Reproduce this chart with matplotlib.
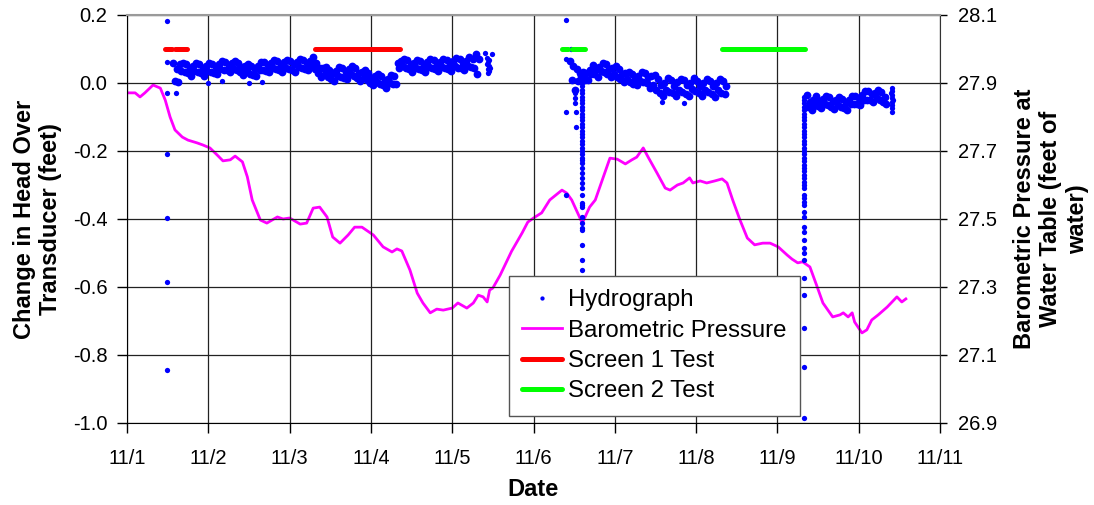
import numpy as np
import matplotlib.pyplot as plt

plt.rcParams['font.family'] = ['Liberation Sans', 'DejaVu Sans']
plt.rcParams['axes.unicode_minus'] = False

# x values are days after 11/1 00:00
day_labels = ['11/1', '11/2', '11/3', '11/4', '11/5', '11/6',
              '11/7', '11/8', '11/9', '11/10', '11/11']

# barometric pressure (feet of water), right axis
baro_t = [0.00, 0.10, 0.16, 0.22, 0.32, 0.41, 0.47, 0.53, 0.59, 0.68,
          0.75, 0.86, 0.93, 1.02, 1.11, 1.18, 1.27, 1.33, 1.42, 1.48,
          1.54, 1.64, 1.72, 1.85, 1.92, 2.00, 2.13, 2.21, 2.29, 2.37,
          2.46, 2.53, 2.62, 2.72, 2.80, 2.89, 3.03, 3.15, 3.26, 3.32,
          3.38, 3.48, 3.57, 3.64, 3.73, 3.81, 3.89, 4.00, 4.07, 4.18,
          4.26, 4.32, 4.38, 4.43, 4.46, 4.50, 4.59, 4.73, 4.86, 4.93,
          5.02, 5.10, 5.20, 5.35, 5.41, 5.47, 5.60, 5.69, 5.76, 5.94,
          6.03, 6.13, 6.21, 6.27, 6.35, 6.41, 6.52, 6.62, 6.68, 6.77,
          6.84, 6.92, 6.96, 7.05, 7.13, 7.23, 7.32, 7.38, 7.45, 7.54,
          7.63, 7.72, 7.82, 7.91, 8.01, 8.12, 8.18, 8.25, 8.31, 8.40,
          8.49, 8.56, 8.68, 8.77, 8.81, 8.87, 8.92, 8.95, 9.04, 9.10,
          9.16, 9.24, 9.35, 9.47, 9.53, 9.58]
baro = [27.871, 27.871, 27.859, 27.871, 27.894, 27.885, 27.850, 27.800, 27.762, 27.741,
        27.732, 27.724, 27.718, 27.709, 27.688, 27.671, 27.674, 27.685, 27.668, 27.624,
        27.556, 27.497, 27.488, 27.506, 27.500, 27.503, 27.485, 27.488, 27.532, 27.535,
        27.506, 27.447, 27.429, 27.453, 27.476, 27.476, 27.453, 27.418, 27.403, 27.412,
        27.406, 27.350, 27.282, 27.253, 27.224, 27.235, 27.232, 27.238, 27.253, 27.238,
        27.253, 27.276, 27.271, 27.256, 27.291, 27.297, 27.335, 27.405, 27.459, 27.491,
        27.506, 27.518, 27.556, 27.585, 27.576, 27.556, 27.488, 27.535, 27.556, 27.679,
        27.676, 27.662, 27.674, 27.682, 27.709, 27.682, 27.635, 27.591, 27.585, 27.600,
        27.606, 27.621, 27.606, 27.612, 27.606, 27.612, 27.618, 27.606, 27.556, 27.497,
        27.444, 27.424, 27.429, 27.429, 27.418, 27.394, 27.382, 27.371, 27.374, 27.359,
        27.300, 27.253, 27.212, 27.218, 27.224, 27.212, 27.224, 27.197, 27.165, 27.174,
        27.203, 27.218, 27.241, 27.271, 27.256, 27.265]

# hydrograph, logged every 0.02 day in three runs
log_step = 0.02
run1_start = 0.57
run1 = [0.060, 0.006, 0.042, 0.002, 0.055, 0.035, 0.059, 0.031, 0.055, 0.028,
        0.044, 0.022, 0.050, 0.035, 0.059, 0.031, 0.055, 0.028,
        0.044, 0.022, 0.050, 0.036, 0.060, 0.032, 0.057, 0.030,
        0.048, 0.027, 0.056, 0.041, 0.066, 0.039, 0.063, 0.037,
        0.054, 0.031, 0.058, 0.042, 0.066, 0.037, 0.060, 0.032,
        0.047, 0.023, 0.050, 0.034, 0.056, 0.027, 0.050, 0.024,
        0.042, 0.021, 0.051, 0.038, 0.063, 0.037, 0.062, 0.036,
        0.053, 0.032, 0.060, 0.045, 0.069, 0.041, 0.065, 0.038,
        0.054, 0.033, 0.061, 0.044, 0.068, 0.042, 0.064, 0.039,
        0.055, 0.033, 0.062, 0.047, 0.072, 0.044, 0.069, 0.042,
        0.059, 0.037, 0.066, 0.051, 0.075, 0.041, 0.060, 0.030,
        0.044, 0.019, 0.044, 0.026, 0.047, 0.017, 0.039, 0.012,
        0.029, 0.007, 0.036, 0.021, 0.046, 0.018, 0.043, 0.016,
        0.033, 0.011, 0.040, 0.025, 0.049, 0.021, 0.044, 0.016,
        0.030, 0.006, 0.032, 0.015, 0.037, 0.008, 0.030, 0.001,
        0.016, -0.007, 0.020, 0.004, 0.027, -0.002, 0.021, -0.007,
        0.008, -0.015, 0.013, -0.001, 0.024, -0.003, 0.022, -0.004,
        0.059, 0.043, 0.064, 0.049, 0.072, 0.044, 0.067, 0.040,
        0.055, 0.033, 0.060, 0.045, 0.069, 0.041, 0.065, 0.038,
        0.054, 0.033, 0.061, 0.046, 0.070, 0.043, 0.067, 0.040,
        0.056, 0.034, 0.062, 0.048, 0.072, 0.044, 0.068, 0.041,
        0.057, 0.035, 0.064, 0.049, 0.073, 0.045, 0.070, 0.043,
        0.059, 0.037, 0.065, 0.051, 0.075, 0.047, 0.071, 0.044,
        0.084, 0.026, 0.070]
run2_start = 5.45
run2 = [0.065, 0.010, 0.050, -0.020, 0.040, 0.005, 0.030, 0.020, 0.033, 0.010,
        0.029, 0.009, 0.039, 0.026, 0.052, 0.026,
        0.040, 0.019, 0.048, 0.034, 0.059, 0.031, 0.055, 0.027,
        0.041, 0.017, 0.043, 0.026, 0.049, 0.019, 0.041, 0.012,
        0.026, 0.002, 0.028, 0.011, 0.033, 0.003, 0.025, -0.002,
        0.015, -0.007, 0.022, 0.007, 0.032, 0.004, 0.028, 0.001,
        0.018, -0.015, 0.020, -0.005, 0.024, -0.020, 0.011, -0.028,
        -0.006, -0.037, 0.001, -0.020, 0.014, -0.026, 0.008, -0.030,
        -0.008, -0.039, 0.002, -0.021, 0.013, -0.027, 0.009, -0.031,
        -0.007, -0.037, 0.000, -0.019, 0.015, -0.025, 0.007, -0.029,
        -0.008, -0.039, 0.000, -0.021, 0.013, -0.027, 0.007, -0.031,
        -0.009, -0.040, -0.001, -0.022, 0.012, -0.028, 0.006, -0.032, -0.010]
run3_start = 8.36
run3 = [-0.035, -0.070, -0.056, -0.078, -0.049, -0.064, -0.039, -0.067,
        -0.054, -0.075, -0.047, -0.062, -0.038, -0.066, -0.042, -0.070,
        -0.054, -0.077, -0.049, -0.065, -0.041, -0.070, -0.046, -0.074,
        -0.058, -0.080, -0.050, -0.063, -0.037, -0.063, -0.037, -0.062,
        -0.045, -0.066, -0.036, -0.050, -0.024, -0.051, -0.025, -0.051,
        -0.033, -0.055, -0.028, -0.044, -0.021, -0.050, -0.027, -0.055,
        -0.041, -0.063]

# drawdown spikes when the pumps started
spike2_t = 5.60
spike2 = [0.010, 0.000, -0.010, -0.020, -0.030, -0.040, -0.050, -0.060, -0.070, -0.080,
          -0.090, -0.100, -0.110, -0.120, -0.130, -0.140, -0.150, -0.160, -0.170, -0.180,
          -0.190, -0.200, -0.210, -0.220, -0.226, -0.235, -0.250, -0.265, -0.279, -0.294,
          -0.309, -0.329, -0.353, -0.359, -0.365, -0.394, -0.412, -0.426, -0.432, -0.476,
          -0.520, -0.550, -0.620, -0.700, -0.800, -0.900, -0.971]
spike3_t = 8.33
spike3 = [-0.040, -0.050, -0.060, -0.070, -0.080, -0.090, -0.100, -0.110, -0.120, -0.130,
          -0.140, -0.150, -0.160, -0.170, -0.180, -0.190, -0.200, -0.210, -0.220, -0.230,
          -0.240, -0.250, -0.260, -0.270, -0.280, -0.290, -0.300, -0.310, -0.329, -0.338,
          -0.350, -0.359, -0.379, -0.394, -0.424, -0.438, -0.462, -0.485, -0.500, -0.521,
          -0.574, -0.624, -0.721, -0.835, -0.985]

# scattered single readings
extra_t = [0.49, 0.49, 0.49, 0.49, 0.49, 0.49, 0.49, 0.60, 1.00, 1.17, 1.50, 1.66,
           4.40, 4.43, 4.43, 4.44, 4.44, 4.44, 4.45, 4.45, 4.45, 4.46, 4.49,
           5.40, 5.46, 5.40, 5.40, 5.52, 5.52, 5.40, 5.51, 5.51, 5.51, 6.58, 6.85,
           9.41, 9.41, 9.41, 9.41, 9.41, 9.41, 9.41, 9.41, 9.40, 9.42]
extra_v = [0.182, 0.062, -0.030, -0.210, -0.397, -0.585, -0.844, -0.030, 0.000, 0.006, 0.000, 0.003,
           0.088, 0.073, 0.055, 0.040, 0.028, 0.062, 0.050, 0.035, 0.068, 0.045, 0.086,
           0.185, 0.100, 0.070, -0.085, -0.085, -0.130, -0.330, -0.030, -0.045, -0.060, -0.056, -0.059,
           -0.015, -0.025, -0.035, -0.045, -0.055, -0.065, -0.075, -0.085, -0.030, -0.050]

# pumping test periods, drawn at 0.1 ft
test_level = 0.1
screen1_start = [0.47, 0.59, 2.31]
screen1_end = [0.55, 0.74, 3.36]
screen2_start = [5.35, 5.47, 7.32]
screen2_end = [5.43, 5.63, 8.34]

left_ticks = [-1.0, -0.8, -0.6, -0.4, -0.2, 0.0, 0.2]
right_ticks = [26.9, 27.1, 27.3, 27.5, 27.7, 27.9, 28.1]

W, H = 1094, 505
fig = plt.figure(figsize=(W / 100, H / 100), dpi=100)
ax = fig.add_axes([127 / W, 1 - 423 / H, 813 / W, 408 / H])
ax2 = ax.twinx()
ax.set_zorder(ax2.get_zorder() + 1)
ax.patch.set_visible(False)

blue = '#0000FF'
band_dot = dict(ls='none', marker='o', ms=5.6, color=blue, mec='none')
h_hyd, = ax.plot(np.arange(len(run1)) * log_step + run1_start, run1, label='Hydrograph', **band_dot)
ax.plot(np.arange(len(run2)) * log_step + run2_start, run2, **band_dot)
ax.plot(np.arange(len(run3)) * log_step + run3_start, run3, **band_dot)
dot = dict(band_dot, ms=3.8)
ax.plot(np.full(len(spike2), spike2_t), spike2, **dot)
ax.plot(np.full(len(spike3), spike3_t), spike3, **dot)
ax.plot(extra_t, extra_v, **dot)

h_baro, = ax2.plot(baro_t, baro, color='#FF00FF', lw=2.0, label='Barometric Pressure')

for s, e in zip(screen1_start, screen1_end):
    h_s1, = ax.plot([s, e], [test_level, test_level], color='#FF0000', lw=3.6,
                    solid_capstyle='round', label='Screen 1 Test')
for s, e in zip(screen2_start, screen2_end):
    h_s2, = ax.plot([s, e], [test_level, test_level], color='#00FF00', lw=3.6,
                    solid_capstyle='round', label='Screen 2 Test')

ax.set_xlim(0, 10)
ax.set_ylim(-1.0, 0.2)
ax.set_xticks(range(11))
ax.set_xticklabels(day_labels)
ax.set_yticks(left_ticks)
ax.set_yticklabels(['%.1f' % v for v in left_ticks])
ax2.set_ylim(26.9, 28.1)
ax2.set_yticks(right_ticks)
ax2.set_yticklabels(['%.1f' % v for v in right_ticks])

ax.grid(True, color='#222222', lw=0.9)
ax.tick_params(axis='both', direction='out', length=7, width=1, labelsize=14.5, color='black')
ax.tick_params(axis='x', pad=12)
ax.tick_params(axis='y', pad=7)
ax2.tick_params(axis='y', direction='out', length=5, width=1, labelsize=14.5, pad=8)

for side in ['left', 'bottom']:
    ax.spines[side].set_color('black')
ax.spines['top'].set_color('#9a9a9a')
ax.spines['top'].set_linewidth(1.5)
ax.spines['right'].set_visible(False)
for side in ['left', 'bottom', 'top']:
    ax2.spines[side].set_visible(False)
ax2.spines['right'].set_color('#333333')

bold = dict(fontsize=17, fontweight='bold', ha='center', va='center', multialignment='center')
fig.text(37.5 / W, 1 - 219 / H, 'Change in Head Over\nTransducer (feet)', rotation=90, **bold)
fig.text(1051 / W, 1 - 219 / H, 'Barometric Pressure at\nWater Table (feet of\nwater)', rotation=90, **bold)
fig.text(533 / W, 1 - 490 / H, 'Date', **bold)

leg = ax.legend([h_hyd, h_baro, h_s1, h_s2],
                ['Hydrograph', 'Barometric Pressure', 'Screen 1 Test', 'Screen 2 Test'],
                loc='upper left', bbox_to_anchor=(509 / W, 1 - 276 / H),
                bbox_transform=fig.transFigure, borderaxespad=0,
                fontsize=17.3, fancybox=False, framealpha=1, edgecolor='#555555',
                handlelength=1.65, handletextpad=0.25, labelspacing=0.35,
                borderpad=0.55, markerscale=0.55)
leg.get_frame().set_linewidth(1.0)

fig.savefig('out.png', dpi=100)
